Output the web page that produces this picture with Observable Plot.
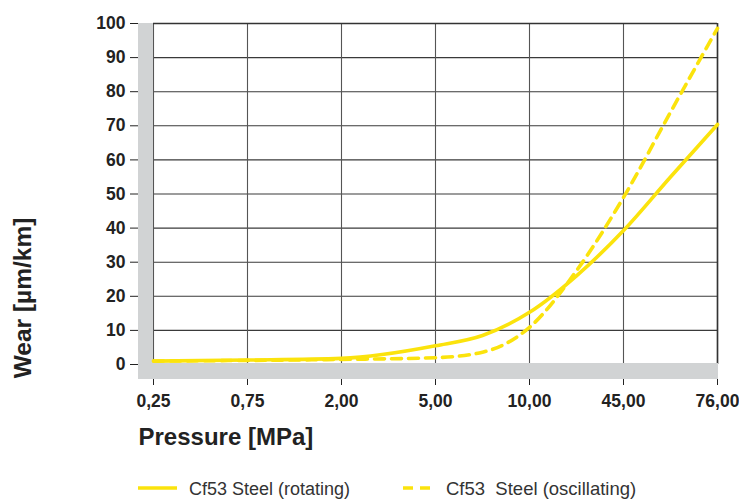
<!DOCTYPE html>
<html>
<head>
<meta charset="utf-8">
<script src="https://cdn.jsdelivr.net/npm/d3@7"></script>
<script src="https://cdn.jsdelivr.net/npm/@observablehq/plot@0.6"></script>
<style>
  html, body { margin: 0; padding: 0; background: #fff; }
  #wrap { position: relative; width: 739px; height: 501px; font-family: "Liberation Sans", Arial, sans-serif; }
  #legend { position: absolute; left: 0; top: 474px; width: 739px; height: 27px; }
</style>
</head>
<body>
<div id="wrap">
  <div id="chart"></div>
  <div id="legend"></div>
</div>
<script>
// Tick labels (categorical pressure steps, equally spaced)
const pressureLabels = ["0,25", "0,75", "2,00", "5,00", "10,00", "45,00", "76,00"];
const yTicks = [0, 10, 20, 30, 40, 50, 60, 70, 80, 90, 100];

// Positions along the pressure axis (index of category, with half-steps)
const rotatingPos = [0, 1, 2, 3, 3.5, 4, 4.5, 5, 5.5, 6];
const rotatingWear = [1.0, 1.3, 1.8, 5.5, 8.5, 15.3, 26.0, 39.3, 55.0, 70.4];

const oscillatingPos = [0, 1, 2, 3, 3.5, 4, 4.5, 5, 5.5, 6];
const oscillatingWear = [1.0, 1.2, 1.5, 2.0, 3.6, 10.9, 27.5, 49.0, 74.0, 98.6];

const seriesNames = ["Cf53 Steel (rotating)", "Cf53  Steel (oscillating)"];
const yellow = "#fbe30c";

const rotating = rotatingPos.map((p, i) => ({x: p, y: rotatingWear[i]}));
const oscillating = oscillatingPos.map((p, i) => ({x: p, y: oscillatingWear[i]}));
const xIdx = pressureLabels.map((_, i) => i);

const chart = Plot.plot({
  width: 739,
  height: 474,
  marginTop: 23,
  marginBottom: 110,
  marginLeft: 153,
  marginRight: 22,
  style: {fontFamily: "'Liberation Sans', Arial, sans-serif", background: "#fff"},
  x: {type: "linear", domain: [0, 6]},
  y: {domain: [0, 100]},
  marks: [
    Plot.ruleY(yTicks.filter(d => d > 0), {x1: 0, x2: 6, stroke: "#3a3a3a", strokeWidth: 1.1}),
    Plot.ruleX(xIdx, {y1: 0, y2: 100, stroke: "#555", strokeWidth: 1.1}),
    Plot.ruleY([100], {x1: 0, x2: 6, stroke: "#333", strokeWidth: 1.6}),
    Plot.ruleX([6], {y1: 0, y2: 100, stroke: "#333", strokeWidth: 1.6}),
    Plot.axisX({
      ticks: xIdx,
      tickFormat: i => pressureLabels[i],
      tickSize: 21,
      tickPadding: 9,
      label: null,
      fontSize: 17.5,
      fontWeight: "bold",
      fill: "#222",
      stroke: "#222"
    }),
    Plot.axisY({
      ticks: yTicks,
      tickSize: 23,
      tickPadding: 5,
      label: null,
      fontSize: 17.5,
      fontWeight: "bold",
      fill: "#222",
      stroke: "#222"
    }),
    // grey baseline frame (left and bottom)
    Plot.rect([{}], {x1: 0, x2: 0, y1: 0, y2: 100, insetLeft: -15, insetRight: 0, insetTop: 0, insetBottom: -15, fill: "#d1d3d4"}),
    Plot.rect([{}], {x1: 0, x2: 6, y1: 0, y2: 0, insetLeft: -15, insetRight: -1, insetTop: -1, insetBottom: -15, fill: "#d1d3d4"}),
    Plot.line(oscillating, {x: "x", y: "y", curve: "monotone-x", stroke: yellow, strokeWidth: 3.6, strokeDasharray: "10,7"}),
    Plot.line(rotating, {x: "x", y: "y", curve: "monotone-x", stroke: yellow, strokeWidth: 3.6}),
    Plot.text(["Pressure [MPa]"], {frameAnchor: "bottom-left", dx: -15, dy: 80, textAnchor: "start", fontSize: 24, fontWeight: "bold", fill: "#222"}),
    Plot.text(["Wear [µm/km]"], {frameAnchor: "left", rotate: -90, textAnchor: "middle", dx: -130, dy: 104, fontSize: 24.5, fontWeight: "bold", fill: "#222"})
  ]
});
document.getElementById("chart").appendChild(chart);

// Legend
const lg = d3.select("#legend").append("svg").attr("width", 739).attr("height", 27);
lg.append("line").attr("x1", 138).attr("x2", 177).attr("y1", 14).attr("y2", 14)
  .attr("stroke", yellow).attr("stroke-width", 3.6);
lg.append("text").attr("x", 189).attr("y", 20.5).text(seriesNames[0])
  .attr("font-family", "'Liberation Sans Narrow', 'Liberation Sans', Arial, sans-serif").attr("font-size", 18).attr("fill", "#333");
lg.append("line").attr("x1", 403).attr("x2", 437).attr("y1", 14).attr("y2", 14)
  .attr("stroke", yellow).attr("stroke-width", 3.6).attr("stroke-dasharray", "10,7");
lg.append("text").attr("x", 446).attr("y", 20.5).text(seriesNames[1]).attr("xml:space", "preserve").style("white-space", "pre")
  .attr("font-family", "'Liberation Sans Narrow', 'Liberation Sans', Arial, sans-serif").attr("font-size", 18.5).attr("fill", "#333");
</script>
</body>
</html>
